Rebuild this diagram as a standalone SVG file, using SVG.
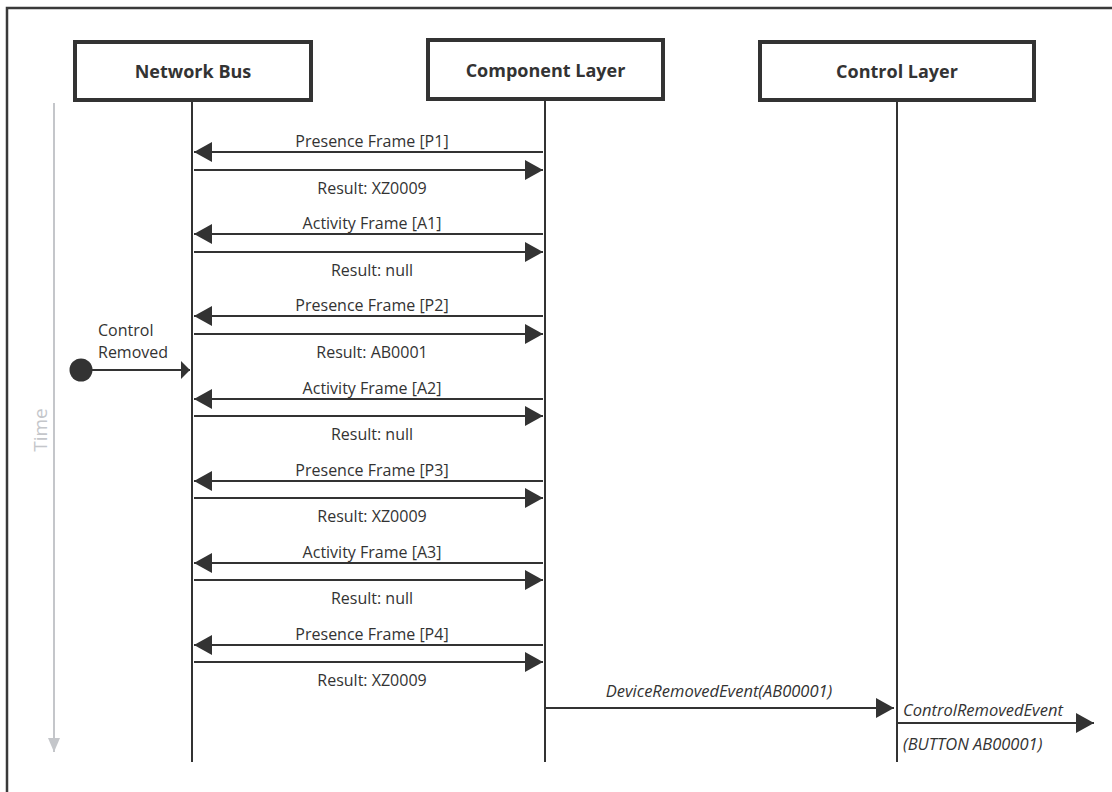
<svg xmlns="http://www.w3.org/2000/svg" width="1112" height="792" viewBox="0 0 1112 792">
<defs>
<style>
.frame{fill:none;stroke:#3a3a3a;stroke-width:2.5}
.box{fill:#fff;stroke:#333;stroke-width:4}
.hdr{font-family:"Open Sans","Liberation Sans",sans-serif;font-weight:bold;font-size:18px;fill:#333;text-anchor:middle}
.life{stroke:#333;stroke-width:2}
.msg{stroke:#333;stroke-width:2;fill:none}
.lbl{font-family:"Open Sans","Liberation Sans",sans-serif;font-size:16px;fill:#333;text-anchor:middle}
.lft{font-family:"Open Sans","Liberation Sans",sans-serif;font-size:16px;fill:#333;text-anchor:start}
.it{font-family:"Open Sans","Liberation Sans",sans-serif;font-size:16.5px;fill:#333;font-style:italic}
.time{stroke:#c4c6ca;stroke-width:2}
</style>
<marker id="ahs" viewBox="0 0 9 18" refX="9" refY="9" markerWidth="9" markerHeight="18" markerUnits="userSpaceOnUse" orient="auto">
<path d="M0,0 L9,9 L0,18 z" fill="#333"/>
</marker>
<marker id="ahb" viewBox="0 0 18 20" refX="18" refY="10" markerWidth="18" markerHeight="20" markerUnits="userSpaceOnUse" orient="auto">
<path d="M0,0 L18,10 L0,20 z" fill="#333"/>
</marker>
<marker id="aht" viewBox="0 0 14 12" refX="14" refY="6" markerWidth="14" markerHeight="12" markerUnits="userSpaceOnUse" orient="auto">
<path d="M0,0 L14,6 L0,12 z" fill="#c4c6ca"/>
</marker>
</defs>
<path class="frame" d="M7,792 V8 H1112"/>
<g id="time">
<line class="time" x1="54" y1="103" x2="54" y2="752" marker-end="url(#aht)"/>
<text x="0" y="0" transform="translate(47,430) rotate(-90)" font-family="'Open Sans','Liberation Sans',sans-serif" font-size="19" fill="#c4c6ca" text-anchor="middle">Time</text>
</g>
<g id="network-bus">
<rect class="box" x="75" y="42" width="236" height="58"/>
<text class="hdr" x="193" y="78">Network Bus</text>
<line class="life" x1="192" y1="100" x2="192" y2="762"/>
</g>
<g id="component-layer">
<rect class="box" x="428" y="40" width="235" height="59"/>
<text class="hdr" x="545.5" y="77">Component Layer</text>
<line class="life" x1="545" y1="99" x2="545" y2="762"/>
</g>
<g id="control-layer">
<rect class="box" x="760" y="42" width="274" height="58"/>
<text class="hdr" x="897" y="78">Control Layer</text>
<line class="life" x1="897" y1="100" x2="897" y2="762"/>
</g>
<g id="control-removed">
<circle cx="81" cy="370" r="11.5" fill="#333"/>
<text class="lft" x="98" y="336">Control</text>
<text class="lft" x="98" y="358">Removed</text>
</g>
<g id="connectors">
<line class="msg" x1="92" y1="370" x2="190" y2="370" marker-end="url(#ahs)"/>
<line class="msg" x1="543" y1="152" x2="194" y2="152" marker-end="url(#ahb)"/>
<line class="msg" x1="194" y1="170" x2="543" y2="170" marker-end="url(#ahb)"/>
<line class="msg" x1="543" y1="234" x2="194" y2="234" marker-end="url(#ahb)"/>
<line class="msg" x1="194" y1="252" x2="543" y2="252" marker-end="url(#ahb)"/>
<line class="msg" x1="543" y1="316" x2="194" y2="316" marker-end="url(#ahb)"/>
<line class="msg" x1="194" y1="334" x2="543" y2="334" marker-end="url(#ahb)"/>
<line class="msg" x1="543" y1="399" x2="194" y2="399" marker-end="url(#ahb)"/>
<line class="msg" x1="194" y1="416" x2="543" y2="416" marker-end="url(#ahb)"/>
<line class="msg" x1="543" y1="481" x2="194" y2="481" marker-end="url(#ahb)"/>
<line class="msg" x1="194" y1="498" x2="543" y2="498" marker-end="url(#ahb)"/>
<line class="msg" x1="543" y1="563" x2="194" y2="563" marker-end="url(#ahb)"/>
<line class="msg" x1="194" y1="580" x2="543" y2="580" marker-end="url(#ahb)"/>
<line class="msg" x1="543" y1="645" x2="194" y2="645" marker-end="url(#ahb)"/>
<line class="msg" x1="194" y1="662" x2="543" y2="662" marker-end="url(#ahb)"/>
<line class="msg" x1="545" y1="708" x2="894" y2="708" marker-end="url(#ahb)"/>
<line class="msg" x1="897" y1="723" x2="1094" y2="723" marker-end="url(#ahb)"/>
<text class="lbl" x="372" y="147">Presence Frame [P1]</text>
<text class="lbl" x="372" y="194">Result: XZ0009</text>
<text class="lbl" x="372" y="229">Activity Frame [A1]</text>
<text class="lbl" x="372" y="276">Result: null</text>
<text class="lbl" x="372" y="311">Presence Frame [P2]</text>
<text class="lbl" x="372" y="358">Result: AB0001</text>
<text class="lbl" x="372" y="394">Activity Frame [A2]</text>
<text class="lbl" x="372" y="440">Result: null</text>
<text class="lbl" x="372" y="476">Presence Frame [P3]</text>
<text class="lbl" x="372" y="522">Result: XZ0009</text>
<text class="lbl" x="372" y="558">Activity Frame [A3]</text>
<text class="lbl" x="372" y="604">Result: null</text>
<text class="lbl" x="372" y="640">Presence Frame [P4]</text>
<text class="lbl" x="372" y="686">Result: XZ0009</text>
<text class="it" x="719" y="697" text-anchor="middle">DeviceRemovedEvent(AB00001)</text>
<text class="it" x="903" y="716">ControlRemovedEvent</text>
<text class="it" x="903" y="750">(BUTTON AB00001)</text>
</g>
</svg>
